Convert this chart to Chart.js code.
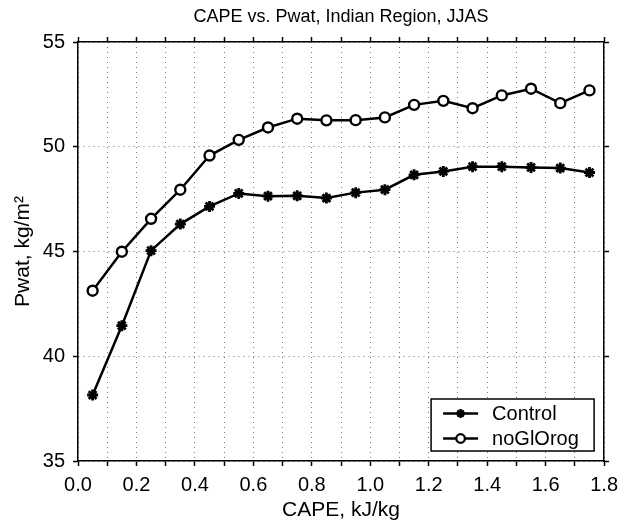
<!DOCTYPE html>
<html>
<head>
<meta charset="utf-8">
<script src="https://cdn.jsdelivr.net/npm/chart.js@4/dist/chart.umd.min.js"></script>
<style>
  html, body { margin: 0; padding: 0; background: #fff; }
  #wrap { width: 625px; height: 523px; }
</style>
</head>
<body>
<div id="wrap"><canvas id="c" width="625" height="523"></canvas></div>
<script>
// ---- data ----
const capeBins = [0.05, 0.15, 0.25, 0.35, 0.45, 0.55, 0.65, 0.75, 0.85, 0.95, 1.05, 1.15, 1.25, 1.35, 1.45, 1.55, 1.65, 1.75];
const controlPwat = [38.15, 41.46, 45.04, 46.31, 47.15, 47.77, 47.64, 47.66, 47.55, 47.81, 47.95, 48.66, 48.82, 49.05, 49.05, 49.01, 48.98, 48.77];
const noGlOrogPwat = [43.13, 44.99, 46.56, 47.95, 49.58, 50.33, 50.92, 51.34, 51.26, 51.27, 51.40, 52.00, 52.19, 51.84, 52.45, 52.77, 52.08, 52.69];
const seriesNames = ['Control', 'noGlOrog'];
const xTickValues = [0.0, 0.1, 0.2, 0.3, 0.4, 0.5, 0.6, 0.7, 0.8, 0.9, 1.0, 1.1, 1.2, 1.3, 1.4, 1.5, 1.6, 1.7, 1.8];
const xTickLabels = ['0.0', '0.2', '0.4', '0.6', '0.8', '1.0', '1.2', '1.4', '1.6', '1.8'];
const yTickLabels = ['35', '40', '45', '50', '55'];
const chartTitle = 'CAPE vs. Pwat, Indian Region, JJAS';
const xTitle = 'CAPE, kJ/kg';
const yTitle = 'Pwat, kg/m\u00B2';

const FONT = "'Liberation Sans', Arial, Helvetica, sans-serif";

function toPoints(xs, ys) { return xs.map((x, i) => ({ x: x, y: ys[i] })); }

const DOT_GRID = '#7a7a7a';

function drawAsterisk(ctx, cx, cy, r) {
  ctx.beginPath();
  for (let k = 0; k < 4; k++) {
    const a = k * Math.PI / 4;
    ctx.moveTo(cx - r * Math.cos(a), cy - r * Math.sin(a));
    ctx.lineTo(cx + r * Math.cos(a), cy + r * Math.sin(a));
  }
  ctx.stroke();
}

// custom boxed legend inside the plot (bottom-right)
const boxLegend = {
  id: 'boxLegend',
  afterDraw(chart) {
    const ctx = chart.ctx;
    const ca = chart.chartArea;
    const x0 = ca.right - 173, x1 = ca.right - 10;
    const y0 = ca.bottom - 62, y1 = ca.bottom - 10;
    ctx.save();
    ctx.fillStyle = '#fff';
    ctx.fillRect(x0, y0, x1 - x0, y1 - y0);
    ctx.strokeStyle = '#000';
    ctx.lineWidth = 1.5;
    ctx.strokeRect(x0, y0, x1 - x0, y1 - y0);
    const rows = [y0 + 14.5, y0 + 39.5];
    chart.data.datasets.forEach((ds, i) => {
      const yy = rows[i];
      const lx0 = x0 + 12, lx1 = x0 + 47, mx = (lx0 + lx1) / 2;
      ctx.strokeStyle = '#000';
      ctx.lineWidth = 2.5;
      ctx.beginPath(); ctx.moveTo(lx0, yy); ctx.lineTo(lx1, yy); ctx.stroke();
      if (ds.pointStyle === 'circle') {
        ctx.beginPath(); ctx.arc(mx, yy, 4.3, 0, Math.PI * 2);
        ctx.fillStyle = '#fff'; ctx.fill();
        ctx.lineWidth = 2.3; ctx.stroke();
      } else {
        ctx.lineWidth = 2.4;
        drawAsterisk(ctx, mx, yy, 4.5);
      }
      ctx.fillStyle = '#000';
      ctx.font = '20px ' + FONT;
      ctx.textAlign = 'left';
      ctx.textBaseline = 'middle';
      ctx.fillText(ds.label, x0 + 61, yy + 1);
    });
    ctx.restore();
  }
};

const commonGrid = {
  color: DOT_GRID,
  lineWidth: 1,
  tickColor: '#000',
  tickWidth: 1.5,
  tickLength: 5,
  tickBorderDash: []
};

new Chart(document.getElementById('c'), {
  type: 'line',
  data: {
    datasets: [
      {
        label: seriesNames[0],
        data: toPoints(capeBins, controlPwat),
        borderColor: '#000',
        borderWidth: 2.5,
        pointStyle: 'star',
        pointRadius: 5.5,
        pointBorderWidth: 2.8,
        pointBorderColor: '#000',
        pointBackgroundColor: '#000',
        tension: 0,
        fill: false
      },
      {
        label: seriesNames[1],
        data: toPoints(capeBins, noGlOrogPwat),
        borderColor: '#000',
        borderWidth: 2.5,
        pointStyle: 'circle',
        pointRadius: 5,
        pointBorderWidth: 2.4,
        pointBorderColor: '#000',
        pointBackgroundColor: '#fff',
        tension: 0,
        fill: false
      }
    ]
  },
  options: {
    responsive: false,
    animation: false,
    devicePixelRatio: 1,
    layout: { padding: 0 },
    plugins: {
      legend: { display: false },
      tooltip: { enabled: false },
      title: {
        display: true,
        text: chartTitle,
        fullSize: false,
        color: '#000',
        font: { family: FONT, size: 18, weight: 'normal' },
        padding: { top: 6, bottom: 0 }
      }
    },
    scales: {
      x: {
        type: 'linear',
        position: 'bottom',
        min: 0, max: 1.8,
        afterFit(s) { s.height = 62; },
        afterBuildTicks(s) {
          s.ticks = xTickValues.map((v) => ({ value: v }));
        },
        ticks: {
          autoSkip: false, maxRotation: 0, padding: 7,
          color: '#000',
          font: { family: FONT, size: 20 },
          callback(v) {
            const k = Math.round(v * 10);
            return k % 2 === 0 ? xTickLabels[k / 2] : '';
          }
        },
        grid: Object.assign({}, commonGrid),
        border: { display: true, color: '#000', width: 1.5, dash: [1, 4] },
        title: {
          display: true, text: xTitle, color: '#000',
          font: { family: FONT, size: 21 }, padding: { top: 0, bottom: 0 }
        }
      },
      x2: {
        type: 'linear',
        position: 'top',
        min: 0, max: 1.8,
        afterFit(s) { s.height = 14.4; },
        afterBuildTicks(s) {
          s.ticks = xTickValues.map((v) => ({ value: v }));
        },
        ticks: { display: false },
        grid: Object.assign({}, commonGrid, { drawOnChartArea: false }),
        border: { display: true, color: '#000', width: 1.5 }
      },
      y: {
        type: 'linear',
        position: 'left',
        min: 35, max: 55,
        afterFit(s) { s.width = 78; },
        afterBuildTicks(s) {
          s.ticks = yTickLabels.map((t) => ({ value: Number(t) }));
        },
        ticks: {
          padding: 8, color: '#000',
          font: { family: FONT, size: 20 },
          callback(v) { return String(v); }
        },
        grid: Object.assign({}, commonGrid),
        border: { display: true, color: '#000', width: 1.5, dash: [1, 4] },
        title: {
          display: true, text: yTitle, color: '#000',
          font: { family: FONT, size: 21 }, padding: { top: 11, bottom: 0 }
        }
      },
      y2: {
        type: 'linear',
        position: 'right',
        min: 35, max: 55,
        afterFit(s) { s.width = 16; },
        afterBuildTicks(s) {
          s.ticks = yTickLabels.map((t) => ({ value: Number(t) }));
        },
        ticks: { display: false },
        grid: Object.assign({}, commonGrid, { drawOnChartArea: false }),
        border: { display: true, color: '#000', width: 1.5 }
      }
    }
  },
  plugins: [boxLegend]
});
</script>
</body>
</html>
